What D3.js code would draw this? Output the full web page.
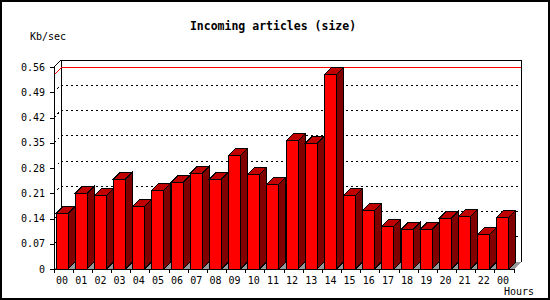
<!DOCTYPE html>
<html>
<head>
<meta charset="utf-8">
<script src="https://cdn.jsdelivr.net/npm/d3@7"></script>
<style>
body { margin: 0; background: #fff; }
svg text { font-family: "DejaVu Sans Mono", monospace; fill: #000; }
</style>
</head>
<body>
<svg id="chart" width="550" height="300"></svg>
<script>
// hourly incoming article size, Kb/sec
var hours = ["00","01","02","03","04","05","06","07","08","09","10","11",
             "12","13","14","15","16","17","18","19","20","21","22","00"];
var sizes = [0.154, 0.210, 0.204, 0.249, 0.174, 0.218, 0.240, 0.265, 0.249, 0.315, 0.263, 0.235,
             0.355, 0.348, 0.538, 0.204, 0.163, 0.118, 0.110, 0.110, 0.141, 0.146, 0.096, 0.143];
var yTicks = [0, 0.07, 0.14, 0.21, 0.28, 0.35, 0.42, 0.49, 0.56];
var yTickLabels = ["0","0.07","0.14","0.21","0.28","0.35","0.42","0.49","0.56"];

var depth = 7;
var barW = 12;

var svg = d3.select("#chart");

svg.append("rect")
  .attr("x", 1).attr("y", 1)
  .attr("width", 548).attr("height", 298)
  .attr("fill", "#fff")
  .attr("stroke", "#000")
  .attr("stroke-width", 2);

var x = d3.scaleBand().domain(d3.range(hours.length)).range([54, 514]);
var y = d3.scaleLinear().domain([0, 0.56]).range([269, 67]);

var x0 = x.range()[0], x1 = x.range()[1];
var yb = y(0), yt = y(0.56);

var g = svg.append("g").attr("shape-rendering", "crispEdges");

// floor
svg.append("polygon")
  .attr("points", [[x0, yb], [x0 + depth, yb - depth], [x1 + depth, yb - depth], [x1, yb]].join(" "))
  .attr("fill", "#999").attr("shape-rendering", "crispEdges");

// back wall frame
g.append("path")
  .attr("d", "M" + (x0 + depth) + "," + (yb - depth) + "V" + (yt - depth) + "H" + (x1 + depth) + "V" + (yb - depth))
  .attr("fill", "none").attr("stroke", "#000");

// dotted grid on back wall + left wall
var grid = yTicks.slice(1, -1);
g.selectAll(".grid").data(grid).enter().append("line")
  .attr("class", "grid")
  .attr("x1", x0 + depth).attr("x2", x1 + depth)
  .attr("y1", function(d) { return y(d) - depth; })
  .attr("y2", function(d) { return y(d) - depth; })
  .attr("stroke", "#000").attr("stroke-dasharray", "2,3");
g.selectAll(".wall").data(grid).enter().append("line")
  .attr("class", "wall")
  .attr("x1", x0).attr("x2", x0 + depth)
  .attr("y1", function(d) { return y(d); })
  .attr("y2", function(d) { return y(d) - depth; })
  .attr("stroke", "#000").attr("stroke-dasharray", "2,3");

// max line
var maxV = d3.max(sizes);
g.append("path")
  .attr("d", "M" + x0 + "," + y(maxV) + "L" + (x0 + depth) + "," + (y(maxV) - depth) + "H" + (x1 + depth))
  .attr("fill", "none").attr("stroke", "#f00");

// bars
var bars = svg.selectAll(".bar").data(sizes).enter().append("g")
  .attr("class", "bar").attr("shape-rendering", "crispEdges");
function left(i) { return x(i) + 2; }
bars.append("polygon")
  .attr("points", function(d, i) {
    var a = left(i), b = a + barW, t = y(d);
    return [[a, t], [a + depth, t - depth], [b + depth, t - depth], [b, t]].join(" ");
  })
  .attr("fill", "#c00000").attr("stroke", "#000");
bars.append("polygon")
  .attr("points", function(d, i) {
    var b = left(i) + barW, t = y(d);
    return [[b, t], [b + depth, t - depth], [b + depth, yb - depth], [b, yb]].join(" ");
  })
  .attr("fill", "#800000").attr("stroke", "#000");
bars.append("rect")
  .attr("x", function(d, i) { return left(i); })
  .attr("y", function(d) { return y(d); })
  .attr("width", barW)
  .attr("height", function(d) { return yb - y(d); })
  .attr("fill", "#f00").attr("stroke", "#000");

// front axes
g.append("path")
  .attr("d", "M" + (x0 + depth) + "," + (yt - depth) + "L" + x0 + "," + yt + "V" + yb + "H" + x1 + "L" + (x1 + depth) + "," + (yb - depth))
  .attr("fill", "none").attr("stroke", "#000");

var yAxis = svg.append("g")
  .attr("transform", "translate(" + x0 + ",0)")
  .call(d3.axisLeft(y).tickValues(yTicks)
    .tickFormat(function(d, i) { return yTickLabels[i]; })
    .tickSize(4).tickPadding(5));
yAxis.select(".domain").remove();
yAxis.selectAll("line").attr("shape-rendering", "crispEdges");
yAxis.selectAll("text").attr("font-size", 10).attr("font-family", "DejaVu Sans Mono");

// x ticks at band boundaries
g.selectAll(".xt").data(d3.range(hours.length + 1)).enter().append("line")
  .attr("class", "xt")
  .attr("x1", function(i) { return x0 + i * x.step(); })
  .attr("x2", function(i) { return x0 + i * x.step(); })
  .attr("y1", yb).attr("y2", yb + 4)
  .attr("stroke", "#000");

var xAxis = svg.append("g")
  .attr("transform", "translate(-1.5," + yb + ")")
  .call(d3.axisBottom(x).tickSize(0).tickPadding(8)
    .tickFormat(function(i) { return hours[i]; }));
xAxis.select(".domain").remove();
xAxis.selectAll("text").attr("font-size", 10).attr("font-family", "DejaVu Sans Mono");

// titles
svg.append("text")
  .attr("x", 273).attr("y", 30)
  .attr("text-anchor", "middle")
  .attr("font-size", 11.5).attr("font-weight", "bold")
  .text("Incoming articles (size)");
svg.append("text")
  .attr("x", 30).attr("y", 40)
  .attr("font-size", 10)
  .text("Kb/sec");
svg.append("text")
  .attr("x", 504).attr("y", 295)
  .attr("font-size", 10)
  .text("Hours");
</script>
</body>
</html>
